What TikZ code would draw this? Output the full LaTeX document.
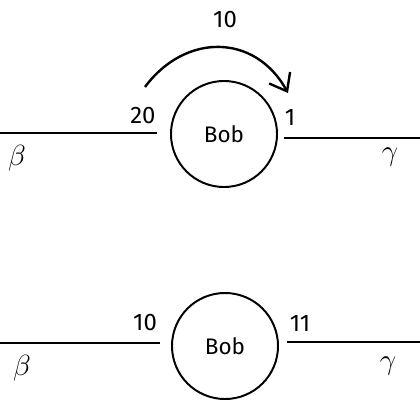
\documentclass[tikz,border=0pt]{standalone}
\usepackage{fontspec}
\setmainfont{Fira Sans}
\usetikzlibrary{arrows.meta}
\begin{document}
\begin{tikzpicture}[x=0.025cm,y=-0.025cm,
  person/.style={circle,draw,line width=1.4pt,minimum size=2.65cm,inner sep=0pt,font=\fontsize{16}{18}\selectfont},
  wire/.style={line width=1.7pt},
  num/.style={font=\fontsize{17}{19}\selectfont,inner sep=0pt},
  greek/.style={font=\fontsize{21}{23}\selectfont,inner sep=0pt}]
\useasboundingbox (0,0) rectangle (420,420);
% top
\node[person] (b1) at (224,134) {Bob};
\coordinate (l1a) at (0,133);
\coordinate (l1b) at (157,133);
\coordinate (r1a) at (284,138);
\coordinate (r1b) at (420,138);
\draw[wire] (l1a) -- (l1b);
\draw[wire] (r1a) -- (r1b);
\node[num] (n20) at (143,116) {20};
\node[num] (n1) at (290,118) {1};
\node[num] (n10) at (225,20) {10};
\node[greek] (beta1) at (17,158) {$\beta$};
\node[greek] (gamma1) at (390,157) {$\gamma$};
\coordinate (as) at (145,87);
\coordinate (ae) at (288,93);
\draw[line width=1.7pt,-{Straight Barb[length=11pt,width=17pt,line width=1.7pt]}] (as) .. controls (185,33) and (255,33) .. (ae);
% bottom
\node[person] (b2) at (225,346) {Bob};
\coordinate (l2a) at (0,343);
\coordinate (l2b) at (160,343);
\coordinate (r2a) at (287,342);
\coordinate (r2b) at (420,342);
\draw[wire] (l2a) -- (l2b);
\draw[wire] (r2a) -- (r2b);
\node[num] (n10b) at (145,323) {10};
\node[num] (n11) at (300,323) {11};
\node[greek] (beta2) at (22,368) {$\beta$};
\node[greek] (gamma2) at (388,366) {$\gamma$};
\end{tikzpicture}
\end{document}
